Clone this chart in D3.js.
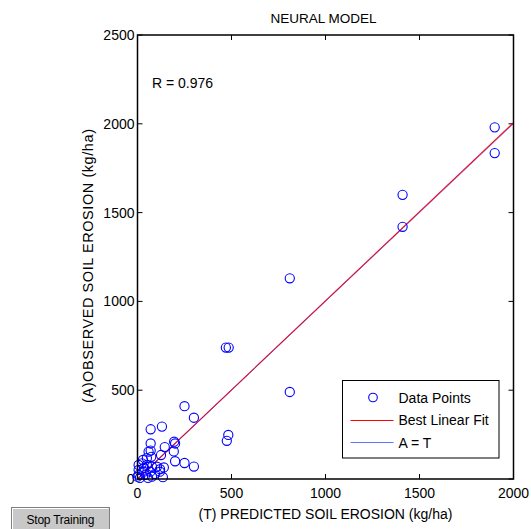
<!DOCTYPE html>
<html>
<head>
<meta charset="utf-8">
<script src="https://cdn.jsdelivr.net/npm/d3@7"></script>
<style>
  html, body { margin: 0; padding: 0; background: #fff; }
  svg { display: block; font-family: "Liberation Sans", Arial, sans-serif; }
</style>
</head>
<body>
<div id="chart"></div>
<script>
// predicted (T) vs observed (A), kg/ha
const predicted = [1900, 1900, 1410, 1410, 810, 810, 470, 485, 483, 475, 250, 300,
  70, 130, 70, 195, 200, 145, 193, 70, 73, 125, 200, 250, 300, 140, 120, 135,
  6, 24, 50, 77, 103, 6, 33, 68, 6, 41, 77, 0, 119, 59, 29, 50, 13, 56, 93, 35];
const observed = [1980, 1835, 1600, 1420, 1130, 490, 740, 740, 248, 215, 410, 345,
  280, 295, 200, 210, 200, 180, 155, 160, 125, 135, 100, 90, 70, 65, 55, 10,
  79, 88, 79, 69, 69, 51, 41, 41, 23, 23, 13, 13, 41, 154, 107, 118, 6, 6, 28, 62];
const fitSlope = 1.003, fitIntercept = 0;
const xTicks = [0, 500, 1000, 1500, 2000];
const yTicks = [0, 500, 1000, 1500, 2000, 2500];
const legendItems = ['Data Points', 'Best Linear Fit', 'A = T'];

const W = 531, H = 529, m = { t: 35, r: 17.5, b: 50, l: 137.5 };
const x = d3.scaleLinear().domain([0, 2000]).range([m.l, W - m.r]);
const y = d3.scaleLinear().domain([0, 2500]).range([H - m.b, m.t]);
const svg = d3.select('#chart').append('svg').attr('width', W).attr('height', H);

// frame + inward ticks (matlab style)
const tk = 5;
const gx = svg.append('g');
gx.selectAll('line.bt').data(xTicks).join('line')
  .attr('x1', d => x(d)).attr('x2', d => x(d)).attr('y1', y(0)).attr('y2', y(0) - tk).attr('stroke', '#000');
gx.selectAll('line.tt').data(xTicks).join('line')
  .attr('x1', d => x(d)).attr('x2', d => x(d)).attr('y1', y(2500)).attr('y2', y(2500) + tk).attr('stroke', '#000');
gx.selectAll('text').data(xTicks).join('text')
  .attr('x', d => x(d)).attr('y', y(0) + 19).attr('text-anchor', 'middle')
  .attr('font-size', 14).text(d => d);
const gy = svg.append('g');
gy.selectAll('line.lt').data(yTicks).join('line')
  .attr('x1', x(0)).attr('x2', x(0) + tk).attr('y1', d => y(d)).attr('y2', d => y(d)).attr('stroke', '#000');
gy.selectAll('line.rt').data(yTicks).join('line')
  .attr('x1', x(2000)).attr('x2', x(2000) - tk).attr('y1', d => y(d)).attr('y2', d => y(d)).attr('stroke', '#000');
gy.selectAll('text').data(yTicks).join('text')
  .attr('x', x(0) - 3).attr('y', d => y(d) + 5).attr('text-anchor', 'end')
  .attr('font-size', 14).text(d => d);

// lines
svg.append('line').attr('x1', x(0)).attr('x2', x(2000))
  .attr('y1', y(fitIntercept)).attr('y2', y(fitIntercept + fitSlope * 2000))
  .attr('stroke', '#ff0000').attr('stroke-width', 1.1);
svg.append('line').attr('x1', x(0)).attr('x2', x(2000)).attr('y1', y(0)).attr('y2', y(2000))
  .attr('stroke', '#3030ff').attr('stroke-width', 1).attr('opacity', 0.5);

// points
svg.append('g').selectAll('circle').data(predicted.map((p, i) => [p, observed[i]])).join('circle')
  .attr('cx', d => x(d[0])).attr('cy', d => y(d[1])).attr('r', 4.6)
  .attr('fill', 'none').attr('stroke', '#0000ff').attr('stroke-width', 1.1);

svg.append('rect').attr('x', x(0)).attr('y', y(2500)).attr('width', x(2000) - x(0)).attr('height', y(0) - y(2500))
  .attr('fill', 'none').attr('stroke', '#000').attr('stroke-width', 1.5);

// legend
const lg = svg.append('g').attr('transform', 'translate(342.5,380.5)');
lg.append('rect').attr('width', 156.5).attr('height', 77.5).attr('fill', '#fff').attr('stroke', '#000');
lg.selectAll('text').data(legendItems).join('text')
  .attr('x', 56).attr('y', (d, i) => 22 + i * 22.5).attr('font-size', 14).text(d => d);
lg.append('circle').attr('cx', 30.5).attr('cy', 17).attr('r', 4.3)
  .attr('fill', 'none').attr('stroke', '#0000ff').attr('stroke-width', 1.1);
lg.append('line').attr('x1', 8).attr('x2', 51).attr('y1', 40).attr('y2', 40).attr('stroke', '#ff0000');
lg.append('line').attr('x1', 8).attr('x2', 51).attr('y1', 62).attr('y2', 62).attr('stroke', '#6070ff');

// texts
svg.append('text').attr('x', 152).attr('y', 88).attr('font-size', 14).text('R = 0.976');
svg.append('text').attr('x', (x(0) + x(2000)) / 2 - 2).attr('y', 23).attr('text-anchor', 'middle')
  .attr('font-size', 13.5).text('NEURAL MODEL');
svg.append('text').attr('x', (x(0) + x(2000)) / 2).attr('y', 519).attr('text-anchor', 'middle')
  .attr('font-size', 14).text('(T) PREDICTED SOIL EROSION (kg/ha)');
svg.append('text').attr('transform', 'translate(93,266) rotate(-90)')
  .attr('text-anchor', 'middle').attr('font-size', 14.5).attr('textLength', 274)
  .text('(A)OBSERVED SOIL EROSION (kg/ha)');

// stop button
const bt = svg.append('g').attr('transform', 'translate(11.5,507.5)');
bt.append('rect').attr('width', 98).attr('height', 24).attr('fill', '#c8c8c8').attr('stroke', '#808080');
bt.append('path').attr('d', 'M1,23V1H97').attr('fill', 'none').attr('stroke', '#fff');
bt.append('text').attr('x', 49).attr('y', 16).attr('text-anchor', 'middle').attr('font-size', 12)
  .attr('textLength', 68).text('Stop Training');
</script>
</body>
</html>
